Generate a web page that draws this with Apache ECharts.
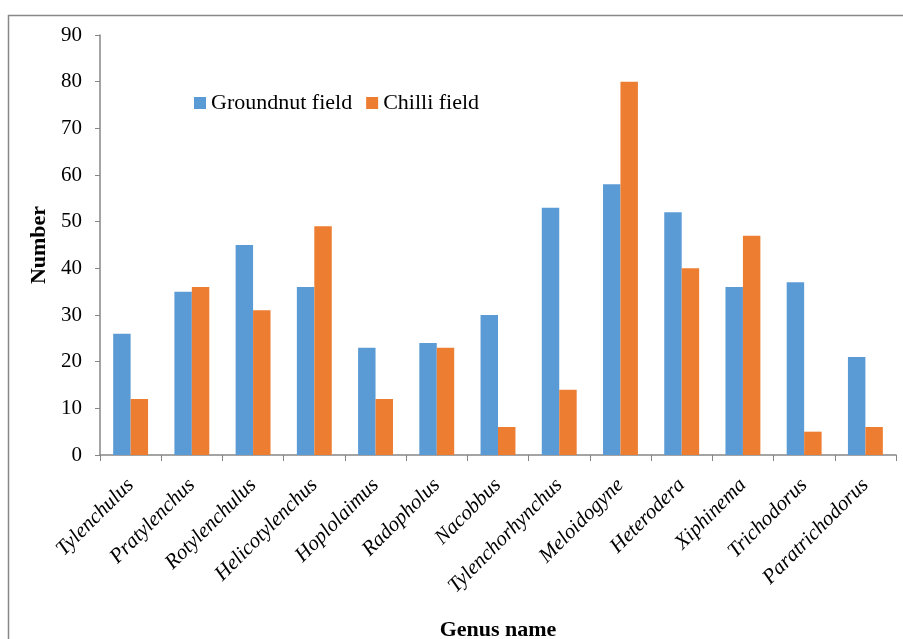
<!DOCTYPE html>
<html>
<head>
<meta charset="utf-8">
<script src="https://cdn.jsdelivr.net/npm/echarts@6/dist/echarts.min.js"></script>
<style>
  html, body { margin: 0; padding: 0; background: #fff; overflow: hidden; }
  #chart { width: 903px; height: 639px; }
</style>
</head>
<body>
<div id="chart"></div>
<script>
// Nematode genera recorded in two crop fields
const genera = ['Tylenchulus', 'Pratylenchus', 'Rotylenchulus', 'Helicotylenchus', 'Hoplolaimus',
  'Radopholus', 'Nacobbus', 'Tylenchorhynchus', 'Meloidogyne', 'Heterodera', 'Xiphinema',
  'Trichodorus', 'Paratrichodorus'];
const groundnutField = [26, 35, 45, 36, 23, 24, 30, 53, 58, 52, 36, 37, 21];
const chilliField = [12, 36, 31, 49, 12, 23, 6, 14, 80, 40, 47, 5, 6];

const serif = '"Liberation Serif", "Times New Roman", serif';
const axisGray = '#868686';

const chart = echarts.init(document.getElementById('chart'), null, { renderer: 'canvas', width: 903, height: 639 });
chart.setOption({
  backgroundColor: '#fff',
  animation: false,
  graphic: [{
    type: 'rect',
    shape: { x: 8.5, y: 15.5, width: 1000, height: 1000 },
    style: { fill: 'none', stroke: '#888', lineWidth: 1.5 },
    silent: true
  }],
  legend: {
    left: 189, top: 87,
    itemWidth: 12, itemHeight: 12, itemGap: 14,
    icon: 'rect',
    textStyle: { fontFamily: serif, fontSize: 22, color: '#000' },
    data: ['Groundnut field', 'Chilli field']
  },
  grid: {
    left: 100, top: 35, width: 796, height: 420,
    containLabel: false, outerBoundsMode: 'none'
  },
  xAxis: {
    type: 'category',
    data: genera,
    name: 'Genus name',
    nameLocation: 'middle',
    nameGap: 164,
    nameTextStyle: { fontFamily: serif, fontSize: 22, fontWeight: 'bold', color: '#000' },
    axisLine: { lineStyle: { color: axisGray, width: 1.5 } },
    axisTick: { show: true, alignWithLabel: false, length: 6, lineStyle: { color: axisGray } },
    axisLabel: {
      rotate: 45, interval: 0, margin: 27,
      fontFamily: serif, fontSize: 21, fontStyle: 'italic', color: '#000'
    }
  },
  yAxis: {
    type: 'value',
    min: 0, max: 90, interval: 10,
    name: 'Number',
    nameLocation: 'middle',
    nameGap: 40,
    nameTextStyle: { fontFamily: serif, fontSize: 22, fontWeight: 'bold', color: '#000' },
    axisLine: { show: true, lineStyle: { color: axisGray, width: 1.5 } },
    axisTick: { show: true, length: 5, lineStyle: { color: axisGray } },
    splitLine: { show: false },
    axisLabel: { fontFamily: serif, fontSize: 21, color: '#000', margin: 18 }
  },
  series: [
    {
      name: 'Groundnut field', type: 'bar', data: groundnutField,
      barWidth: '28.5%', barGap: '0%',
      itemStyle: { color: '#5B9BD5' }
    },
    {
      name: 'Chilli field', type: 'bar', data: chilliField,
      barWidth: '28.5%', barGap: '0%',
      itemStyle: { color: '#ED7D31' }
    }
  ]
});
</script>
</body>
</html>
